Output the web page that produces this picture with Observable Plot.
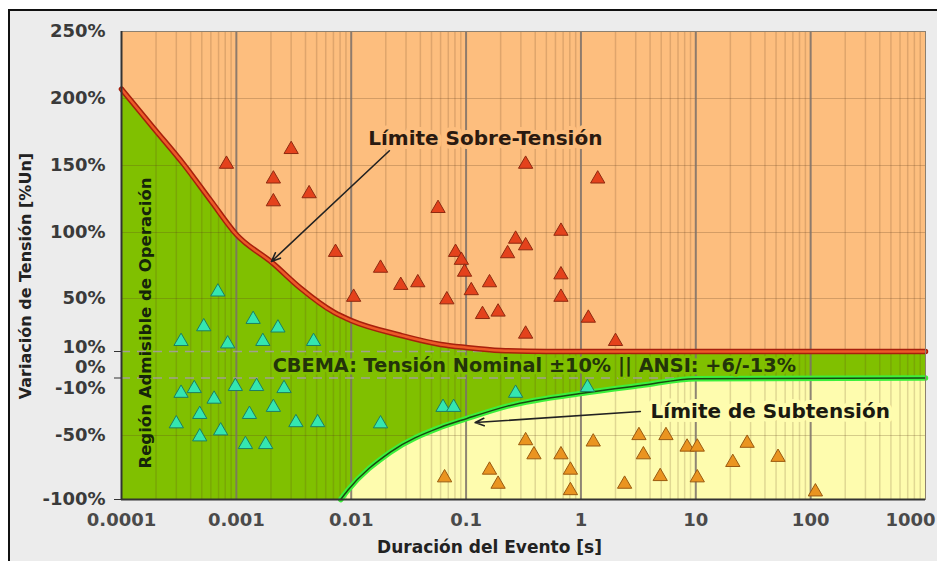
<!DOCTYPE html>
<html><head><meta charset="utf-8">
<script src="https://cdn.jsdelivr.net/npm/d3@7"></script>
<script src="https://cdn.jsdelivr.net/npm/@observablehq/plot@0.6"></script>
<style>
body{margin:0;background:#fff;}
#wrap{position:relative;width:937px;height:561px;overflow:hidden;}
#bg{position:absolute;left:8px;top:9px;right:-10px;bottom:-10px;border-left:2px solid #111;border-top:2px solid #111;background:#ececec;}
#chart{position:absolute;left:0;top:0;}
#chart svg text{font-weight:bold;}
</style></head><body>
<div id="wrap"><div id="bg"></div><div id="chart"></div></div>
<script>
// ---- axis ticks ----
const xTicks = [0.0001, 0.001, 0.01, 0.1, 1, 10, 100, 1000];
const yTicks = [-100, -50, -10, 0, 10, 50, 100, 150, 200, 250];
const yTickLabels = ["-100%", "-50%", "-10%", "0%", "10%", "50%", "100%", "150%", "200%", "250%"];
const yGrid = [200, 150, 100, 50, -50];
const bandEdges = [8, -5];

// ---- limit curves ----
const overT = [0.0001, 0.00019, 0.000347, 0.000596, 0.001, 0.00206, 0.0036, 0.007, 0.01, 0.0268, 0.06, 0.1, 0.2, 0.5, 1000];
const overV = [207, 178, 151, 124, 98.5, 77, 58, 39, 32, 20, 12.5, 10, 8.5, 8, 8];
const underT = [0.0081, 0.0093, 0.0219, 0.06, 0.102, 0.229, 1.14, 3.29, 10, 1000];
const underV = [-100, -93, -63, -43, -35.5, -25, -13.4, -8.6, -5.3, -5];

// ---- events ----
const redT = [0.00082, 0.003, 0.0021, 0.0021, 0.0043, 0.0073, 0.0105, 0.018, 0.027, 0.038, 0.057, 0.068, 0.081, 0.091, 0.097, 0.111, 0.16, 0.139, 0.19, 0.23, 0.27, 0.33, 0.33, 0.33, 0.67, 0.67, 0.67, 1.4, 1.16, 2.0];
const redV = [151, 162, 140, 123, 129, 85, 51, 73, 60, 62, 118, 49, 85, 79, 70, 56, 62, 37, 39, 84, 95, 90, 151, 21, 101, 68, 51, 140, 34, 15];
const cyanT = [0.00069, 0.00052, 0.0014, 0.0023, 0.00033, 0.00084, 0.0017, 0.0047, 0.00033, 0.00043, 0.00098, 0.0015, 0.0026, 0.00064, 0.00048, 0.0013, 0.0021, 0.0003, 0.0033, 0.0051, 0.00048, 0.00073, 0.0012, 0.0018, 0.018, 0.063, 0.078, 0.27, 1.14];
const cyanV = [55, 27, 33, 26, 15, 13, 15, 15, -14, -10, -9, -9, -10, -19, -32, -32, -26, -40, -39, -39, -51, -46, -57, -57, -40, -26, -26, -14, -9.5];
const orangeT = [0.065, 0.16, 0.19, 0.33, 0.39, 0.67, 0.81, 0.81, 1.28, 2.4, 3.2, 3.5, 5.5, 4.9, 8.4, 10.3, 10.3, 21, 28, 52, 110];
const orangeV = [-83, -77, -88, -54, -65, -65, -77, -93, -55, -88, -50, -65, -50, -82, -59, -59, -83, -71, -56, -67, -94];

// ---- annotations ----
const noteText = ["Límite Sobre-Tensión", "Límite de Subtensión", "CBEMA: Tensión Nominal ±10% || ANSI: +6/-13%"];
const noteT = [0.147, 44.5, 0.393];
const noteV = [170, -30, 1];
const arrowT1 = [0.0215, 3.29];
const arrowV1 = [161, -29.6];
const arrowT2 = [0.00202, 0.12];
const arrowV2 = [78, -39];
const regionText = "Región Admisible de Operación";
const regionT = 0.000162, regionV = 30;
const yTitle = "Variación de Tensión [%Un]";
const yTitleV = 67;
const xTitle = "Duración del Evento [s]";
const xTitleT = 0.16;

const ORANGE = "#fdbe7e", GREEN = "#80c000", YELLOW = "#fefcae";

const zip = (T, V) => T.map((t, i) => ({t, v: V[i]}));
const over = zip(overT, overV);
const under = zip(underT, underV);
const red = zip(redT, redV), cyan = zip(cyanT, cyanV), orange = zip(orangeT, orangeV);
const notes = noteText.map((text, i) => ({text, t: noteT[i], v: noteV[i]}));
const arrows = arrowT1.map((t, i) => ({t1: t, v1: arrowV1[i], t2: arrowT2[i], v2: arrowV2[i]}));
const xMinor = [];
for (let k = 0; k < xTicks.length - 1; k++) for (let m = 2; m <= 9; m++) xMinor.push(xTicks[k] * m);
const yLabel = new Map(yTicks.map((d, i) => [d, yTickLabels[i]]));
const yMax = d3.max(yTicks), yMin = d3.min(yTicks);
const CURVE = "monotone-x";

const chart = Plot.plot({
  width: 937, height: 561,
  marginLeft: 121, marginRight: 12, marginTop: 31, marginBottom: 62,
  style: {background: "transparent", fontFamily: "'DejaVu Sans', sans-serif", overflow: "visible"},
  x: {type: "log", domain: [xTicks[0], xTicks[xTicks.length - 1]], range: [121, 925]},
  y: {type: "linear", domain: yTicks, range: [499, 435, 388, 367, 347, 298, 232, 165, 98, 31]},
  marks: [
    Plot.frame({fill: GREEN}),
    Plot.areaY(over, {x: "t", y1: "v", y2: () => yMax, fill: ORANGE, curve: CURVE}),
    Plot.areaY(under, {x: "t", y1: () => yMin, y2: "v", fill: YELLOW, curve: CURVE}),
    Plot.ruleX(xMinor, {stroke: "#5a3a1a", strokeOpacity: 0.18, strokeWidth: 1.5}),
    Plot.ruleY(yGrid, {stroke: "#5a3a1a", strokeOpacity: 0.25}),
    Plot.ruleX(xTicks.slice(1, -1), {stroke: "#7a7068", strokeWidth: 2, strokeOpacity: 0.85}),
    Plot.ruleY(bandEdges, {stroke: "#a0a090", strokeDasharray: "9,7", strokeWidth: 1.5}),
    Plot.line(over, {x: "t", y: "v", stroke: "#a8200c", strokeWidth: 5.5, curve: CURVE}),
    Plot.line(over, {x: "t", y: "v", stroke: "#ec5a28", strokeWidth: 2.5, curve: CURVE}),
    Plot.line(under, {x: "t", y: "v", stroke: "#3cf03c", strokeWidth: 5.5, curve: CURVE}),
    Plot.line(under, {x: "t", y: "v", stroke: "#174a10", strokeWidth: 1.5, curve: CURVE}),
    Plot.dot(red, {x: "t", y: "v", symbol: "triangle", r: 5.3, fill: "#e4421c", stroke: "#8e2a10", strokeWidth: 1}),
    Plot.dot(cyan, {x: "t", y: "v", symbol: "triangle", r: 5.3, fill: "#34e6b0", stroke: "#1d7f62", strokeWidth: 1}),
    Plot.dot(orange, {x: "t", y: "v", symbol: "triangle", r: 5.3, fill: "#ea9420", stroke: "#9a5a10", strokeWidth: 1}),
    Plot.text([notes[0]], {x: "t", y: "v", text: "text", fontSize: 20, fontWeight: "bold", fill: "#2a1a10", stroke: ORANGE, strokeWidth: 8}),
    Plot.text([notes[1]], {x: "t", y: "v", text: "text", fontSize: 20, fontWeight: "bold", fill: "#1a1a10", stroke: YELLOW, strokeWidth: 8}),
    Plot.text([notes[2]], {x: "t", y: "v", text: "text", fontSize: 19.3, fontWeight: "bold", fill: "#23340a", stroke: GREEN, strokeWidth: 5}),
    Plot.text([regionText], {x: () => regionT, y: () => regionV, text: d => d, rotate: -90, fontSize: 16.5, fontWeight: "bold", fill: "#15240a"}),
    Plot.arrow(arrows, {x1: "t1", y1: "v1", x2: "t2", y2: "v2", stroke: "#222", strokeWidth: 1.6, headLength: 9, headAngle: 45}),
    Plot.axisX(xTicks.slice(0, -1), {tickSize: 0, tickPadding: 14, tickFormat: d => String(d), fontSize: 18, fontWeight: "bold", fill: "#4a4a4a", label: null}),
    Plot.axisX(xTicks.slice(-1), {tickSize: 0, tickPadding: 14, dx: -15, tickFormat: d => String(d), fontSize: 18, fontWeight: "bold", fill: "#4a4a4a", label: null}),
    Plot.axisY(yTicks, {tickSize: 0, tickPadding: 16, tickFormat: d => yLabel.get(d), fontSize: 18, fontWeight: "bold", fill: "#3a3a3a", label: null}),
    Plot.axisY([bandEdges[0], bandEdges[1], yMin], {tickSize: 7, tickFormat: () => "", stroke: "#333", label: null}),
    Plot.text([yTitle], {frameAnchor: "left", y: () => yTitleV, dx: -96, text: d => d, rotate: -90, textAnchor: "middle", fontSize: 16, fontWeight: "bold", fill: "#222"}),
    Plot.text([xTitle], {x: () => xTitleT, frameAnchor: "bottom", dy: 53, text: d => d, fontSize: 17, fontWeight: "bold", fill: "#222"}),
    Plot.frame({stroke: "#8c8070"}),
    Plot.ruleX([xTicks[0]], {stroke: "#333", strokeWidth: 2}),
    Plot.ruleY([yMin], {stroke: "#333", strokeWidth: 2})
  ]
});
document.getElementById("chart").appendChild(chart);
</script>
</body></html>
